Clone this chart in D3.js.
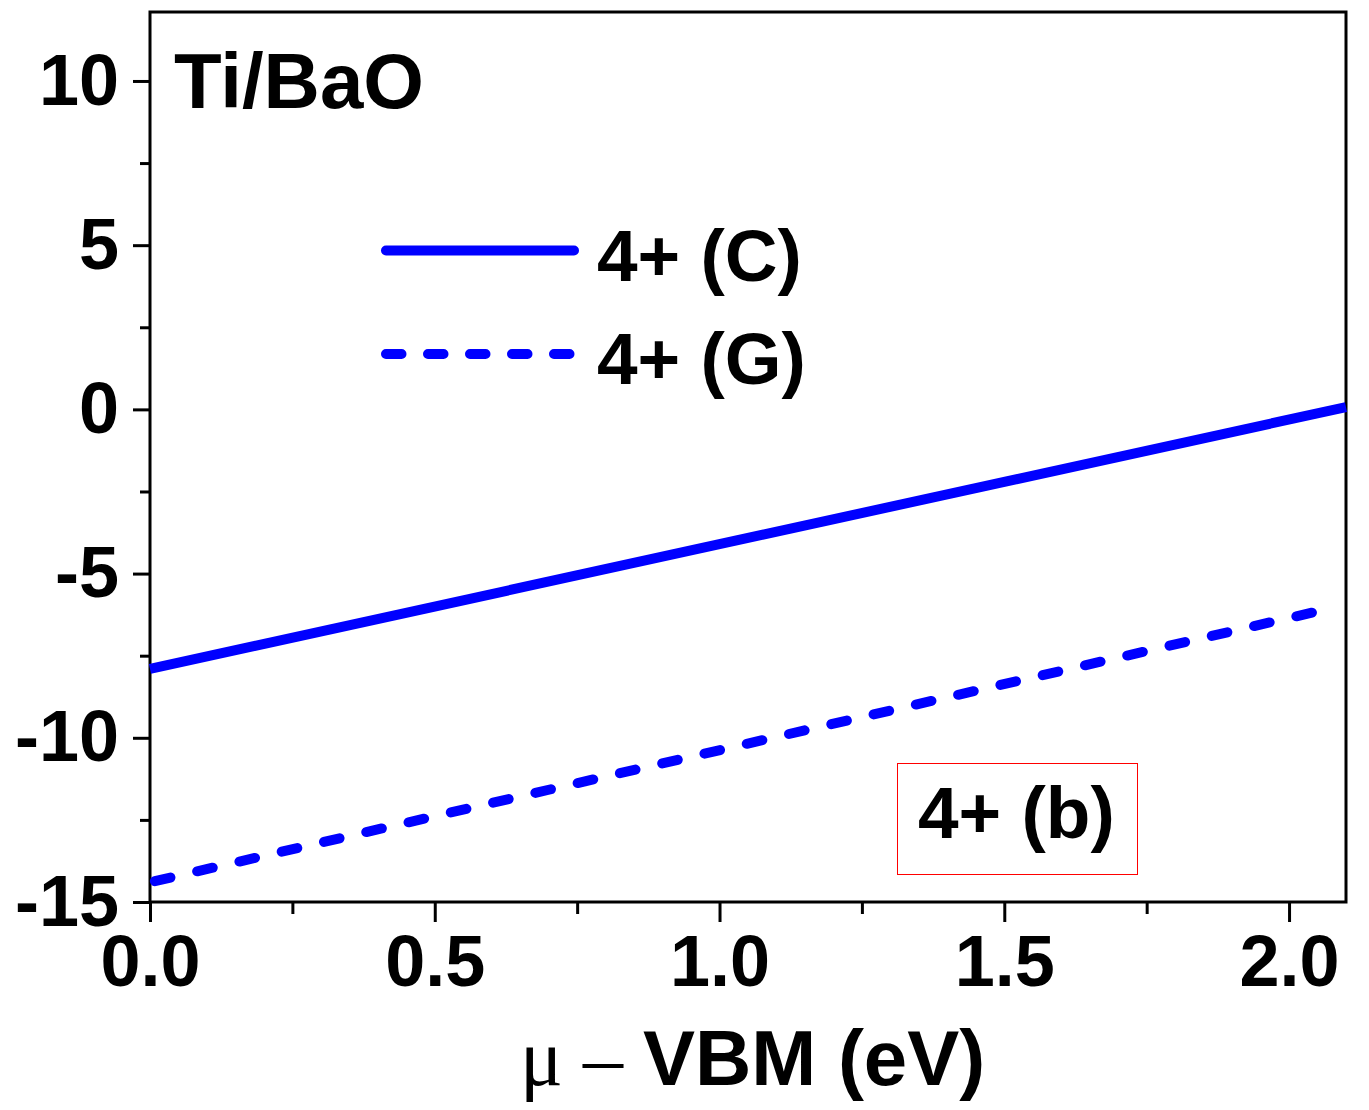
<!DOCTYPE html>
<html>
<head>
<meta charset="utf-8">
<script src="https://cdn.jsdelivr.net/npm/d3@7"></script>
<style>
  body { margin: 0; background: #fff; }
  svg text { font-family: "Liberation Sans", Arial, sans-serif; font-weight: bold; }
</style>
</head>
<body>
<div class="chart"></div>
<script>
// series: endpoints (straight lines)
const muC = [0, 2.1];
const eC = [-7.9, 0.07];
const muG = [0, 2.05];
const eG = [-14.4, -6.15];

const xTicks = [0, 0.5, 1.0, 1.5, 2.0];
const xMinor = [0.25, 0.75, 1.25, 1.75];
const yTicks = [-15, -10, -5, 0, 5, 10];
const yMinor = [-12.5, -7.5, -2.5, 2.5, 7.5];

const legendNames = ["4+ (C)", "4+ (G)"];

const W = 1369, H = 1110;
const margin = {top: 12, right: 23, bottom: 208, left: 150};
const width = W - margin.left - margin.right;
const height = H - margin.top - margin.bottom;

const svg = d3.select(".chart").append("svg")
    .attr("width", W)
    .attr("height", H)
  .append("g")
    .attr("transform", `translate(${margin.left},${margin.top})`);

const x = d3.scaleLinear().domain([0, 2.1]).range([0, width]);
const y = d3.scaleLinear().domain([-15, 12.1]).range([height, 0]);

// frame
svg.append("rect")
    .attr("width", width)
    .attr("height", height)
    .attr("fill", "none")
    .attr("stroke", "#000")
    .attr("stroke-width", 3);

function styleAxis(g) {
  g.select(".domain").remove();
  g.selectAll(".tick line").attr("stroke", "#000").attr("stroke-width", 3);
  g.selectAll(".tick text").attr("fill", "#000").style("font-size", "72px");
}

svg.append("g")
    .attr("transform", `translate(0,${height})`)
    .call(d3.axisBottom(x).tickValues(xTicks).tickFormat(d3.format(".1f")).tickSize(20).tickPadding(13))
    .call(styleAxis);
svg.append("g")
    .attr("transform", `translate(0,${height})`)
    .call(d3.axisBottom(x).tickValues(xMinor).tickFormat("").tickSize(12))
    .call(styleAxis);

svg.append("g")
    .call(d3.axisLeft(y).tickValues(yTicks).tickFormat(d => String(d)).tickSize(17).tickPadding(14))
    .call(styleAxis);
svg.append("g")
    .call(d3.axisLeft(y).tickValues(yMinor).tickFormat("").tickSize(10))
    .call(styleAxis);

// lines
const line = d3.line().x(d => x(d[0])).y(d => y(d[1]));
const dataC = d3.zip(muC, eC);
const dataG = d3.zip(muG, eG);

svg.append("path")
    .datum(dataC)
    .attr("d", line)
    .attr("fill", "none")
    .attr("stroke", "#0000ff")
    .attr("stroke-width", 10);

svg.append("path")
    .datum(dataG)
    .attr("d", line)
    .attr("fill", "none")
    .attr("stroke", "#0000ff")
    .attr("stroke-width", 10)
    .attr("stroke-linecap", "round")
    .attr("stroke-dasharray", "16,27.4")
    .attr("stroke-dashoffset", -5);

// legend
const legend = svg.append("g").attr("transform", "translate(236,0)");
legendNames.forEach((name, i) => {
  const ly = 238.5 + i * 103.5;
  legend.append("line")
      .attr("x1", 0).attr("x2", 188)
      .attr("y1", ly).attr("y2", ly)
      .attr("stroke", "#0000ff")
      .attr("stroke-width", 10)
      .attr("stroke-linecap", "round")
      .attr("stroke-dasharray", i === 0 ? null : "15.5,26.5");
  legend.append("text")
      .attr("x", 211)
      .attr("y", ly + 30)
      .style("font-size", "73px")
      .text(name);
});

// title
svg.append("text")
    .attr("x", 24)
    .attr("y", 96)
    .style("font-size", "78px")
    .text("Ti/BaO");

// label box
svg.append("rect")
    .attr("x", 747.5).attr("y", 751.5)
    .attr("width", 240).attr("height", 111)
    .attr("fill", "none")
    .attr("stroke", "#ff0000")
    .attr("stroke-width", 1);
svg.append("text")
    .attr("x", 768)
    .attr("y", 826)
    .style("font-size", "73px")
    .text("4+ (b)");

// x axis label
const xl = svg.append("text")
    .attr("x", 370)
    .attr("y", 1073);
xl.append("tspan")
    .style("font-family", "'Liberation Serif', 'Times New Roman', serif")
    .style("font-weight", "normal")
    .style("font-size", "80px")
    .text("μ – ");
xl.append("tspan")
    .style("font-size", "78px")
    .text("VBM (eV)");
</script>
</body>
</html>
